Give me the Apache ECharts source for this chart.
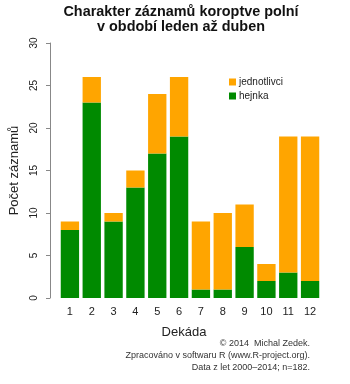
<!DOCTYPE html>
<html>
<head>
<meta charset="utf-8">
<script src="https://cdn.jsdelivr.net/npm/echarts@6/dist/echarts.min.js"></script>
<style>html,body{margin:0;padding:0;background:#fff}#c{width:350px;height:384px}</style>
</head>
<body>
<div id="c"></div>
<script>
const categories = ['1','2','3','4','5','6','7','8','9','10','11','12'];
const hejnka = [8, 23, 9, 13, 17, 19, 1, 1, 6, 2, 3, 2];
const jednotlivci = [1, 3, 1, 2, 7, 7, 8, 9, 5, 2, 16, 17];
const yTicks = [0, 5, 10, 15, 20, 25, 30];

const FONT = '"Liberation Sans", Arial, sans-serif';
const chart = echarts.init(document.getElementById('c'), null, {renderer: 'canvas'});
chart.setOption({
  backgroundColor: '#ffffff',
  animation: false,
  textStyle: {fontFamily: FONT},
  legend: {
    data: ['jednotlivci', 'hejnka'],
    orient: 'vertical', left: 224, top: 72,
    itemWidth: 7, itemHeight: 7, itemGap: 4,
    icon: 'rect',
    textStyle: {fontFamily: FONT, fontSize: 10, color: '#222', padding: [0,0,0,-2]}
  },
  grid: {left: 54, right: 29, top: 43, bottom: 86, containLabel: false},
  xAxis: {
    type: 'category', data: categories,
    axisLine: {show: false}, axisTick: {show: false},
    axisLabel: {fontFamily: FONT, fontSize: 11, color: '#222', margin: 8},
    name: 'Dekáda', nameLocation: 'middle', nameGap: 28,
    nameTextStyle: {fontFamily: FONT, fontSize: 13, color: '#222', padding: [0, 12, 0, 0]}
  },
  yAxis: {
    type: 'value', min: yTicks[0], max: yTicks[yTicks.length - 1], interval: 5,
    offset: 9,
    splitLine: {show: false},
    axisLine: {show: true, lineStyle: {color: '#888', width: 1}},
    axisTick: {show: true, length: 4, lineStyle: {color: '#888'}},
    axisLabel: {fontFamily: FONT, fontSize: 10, color: '#222', rotate: 90, margin: 11},
    name: 'Počet záznamů', nameLocation: 'middle', nameGap: 29,
    nameTextStyle: {fontFamily: FONT, fontSize: 13, color: '#222'}
  },
  series: [
    {name: 'hejnka', type: 'bar', stack: 'a', data: hejnka, barCategoryGap: '16%',
     itemStyle: {color: '#008A00'}},
    {name: 'jednotlivci', type: 'bar', stack: 'a', data: jednotlivci, barCategoryGap: '16%',
     itemStyle: {color: '#FFA500'}}
  ],
  graphic: [
    {type: 'text', x: 181, y: 12, style: {text: 'Charakter záznamů koroptve polní', font: 'bold 14.4px ' + FONT, fill: '#111', textAlign: 'center', textVerticalAlign: 'middle'}},
    {type: 'text', x: 181, y: 27, style: {text: 'v období leden až duben', font: 'bold 14.4px ' + FONT, fill: '#111', textAlign: 'center', textVerticalAlign: 'middle'}},
    {type: 'text', x: 310, y: 344, style: {text: '© 2014  Michal Zedek.', font: '9px ' + FONT, fill: '#333', textAlign: 'right', textVerticalAlign: 'middle'}},
    {type: 'text', x: 310, y: 356, style: {text: 'Zpracováno v softwaru R (www.R-project.org).', font: '9px ' + FONT, fill: '#333', textAlign: 'right', textVerticalAlign: 'middle'}},
    {type: 'text', x: 310, y: 368, style: {text: 'Data z let 2000–2014; n=182.', font: '9px ' + FONT, fill: '#333', textAlign: 'right', textVerticalAlign: 'middle'}}
  ]
});
</script>
</body>
</html>
